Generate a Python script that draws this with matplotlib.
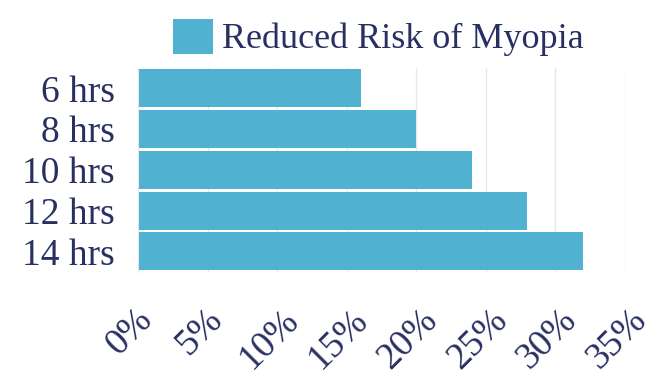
import matplotlib

matplotlib.use("Agg")
import matplotlib.pyplot as plt
from matplotlib.ticker import FuncFormatter
from matplotlib.transforms import ScaledTranslation

# data
categories = ["6 hrs", "8 hrs", "10 hrs", "12 hrs", "14 hrs"]
reduced_risk = [16, 20, 24, 28, 32]
x_ticks = [0, 5, 10, 15, 20, 25, 30, 35]

TEXT = "#283062"
BAR = "#50b1d0"
GRID = "#e6e6ee"

plt.rcParams["font.family"] = ["Liberation Serif", "DejaVu Serif"]

fig = plt.figure(figsize=(6.64, 3.9), dpi=100)
ax = fig.add_axes([0.208, 0.303, 0.733, 0.523])

y = list(range(len(categories)))
ax.barh(y, reduced_risk, height=0.93, color=BAR, label="Reduced Risk of Myopia", zorder=2)

ax.set_ylim(len(categories) - 0.5, -0.5)
ax.set_xlim(0, 35)
ax.set_yticks(y)
ax.set_yticklabels(categories)
ax.set_xticks(x_ticks)
ax.xaxis.set_major_formatter(FuncFormatter(lambda v, _: f"{v:.0f}%"))

ax.grid(axis="x", color=GRID, linewidth=1, zorder=0)
for s in ["top", "right", "bottom"]:
    ax.spines[s].set_visible(False)
ax.spines["left"].set_color(GRID)

ax.tick_params(axis="y", length=0, pad=17, labelsize=27, labelcolor=TEXT)
ax.tick_params(axis="x", length=0, pad=22, labelsize=27, labelcolor=TEXT)
shift = ScaledTranslation(-8 / 100, 0, fig.dpi_scale_trans)
for lbl in ax.get_xticklabels():
    lbl.set_rotation(45)
    lbl.set_ha("center")
    lbl.set_transform(lbl.get_transform() + shift)

fig.legend(
    loc="upper center",
    bbox_to_anchor=(0.57, 1.035),
    frameon=False,
    fontsize=26,
    labelcolor=TEXT,
    handlelength=1.1,
    handleheight=1.1,
    handletextpad=0.25,
)

fig.savefig("out.png", dpi=100)
